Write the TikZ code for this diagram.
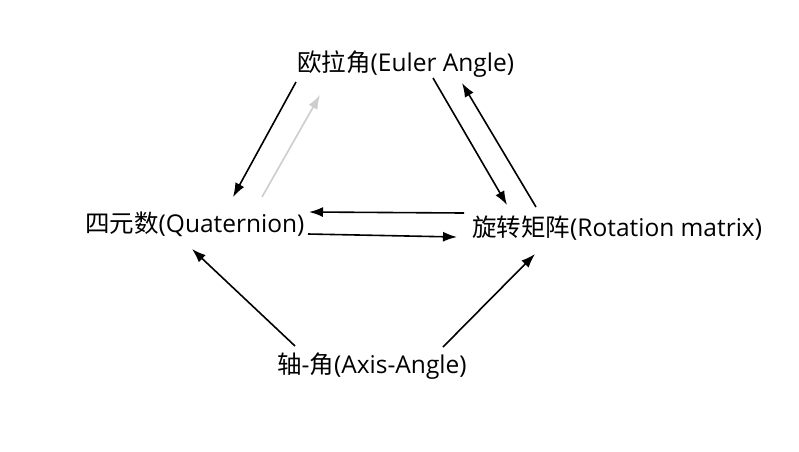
\documentclass[tikz,border=0pt]{standalone}
\usepackage{fontspec}
\setmainfont{Open Sans}
\newfontfamily\cjk{Noto Sans CJK SC}
\usetikzlibrary{arrows.meta}
\definecolor{lightarrow}{RGB}{205,205,205}
\tikzset{
  lbl/.style={inner sep=0pt, anchor=base west, font=\fontsize{24.5}{28}\selectfont},
  conn/.style={line width=1.6pt, -{Latex[length=14pt,width=10pt]}},
  faint/.style={conn, draw=lightarrow}
}
\begin{document}
\begin{tikzpicture}[x=1pt,y=-1pt]
\path[use as bounding box, fill=white] (0,0) rectangle (799,451);
\node[lbl] (e) at (297,71) {{\cjk 欧拉角}(Euler Angle)};
\node[lbl] (q) at (85,232) {{\cjk 四元数}(Quaternion)};
\node[lbl] (r) at (472,236) {{\cjk 旋转矩阵}(Rotation matrix)};
\node[lbl] (a) at (277,373) {{\cjk 轴}-{\cjk 角}(Axis-Angle)};
% Euler <-> Quaternion
\draw[conn] ([shift={(-1,11)}]e.base west) -- ([shift={(148,-35)}]q.base west);
\draw[faint] ([shift={(177,-35)}]q.base west) -- ([shift={(23,24)}]e.base west);
% Euler <-> Rotation
\draw[conn] ([shift={(136,7)}]e.base west) -- ([shift={(35,-31)}]r.base west);
\draw[conn] ([shift={(64,-29)}]r.base west) -- ([shift={(165,12)}]e.base west);
% Quaternion <-> Rotation
\draw[conn] ([shift={(-8,-23)}]r.base west) -- ([shift={(224,-20)}]q.base west);
\draw[conn] ([shift={(223,2)}]q.base west) -- ([shift={(-15,1)}]r.base west);
% Axis-Angle -> others
\draw[conn] ([shift={(18,-27)}]a.base west) -- ([shift={(107,17)}]q.base west);
\draw[conn] ([shift={(166,-26)}]a.base west) -- ([shift={(63,18)}]r.base west);
\end{tikzpicture}
\end{document}
